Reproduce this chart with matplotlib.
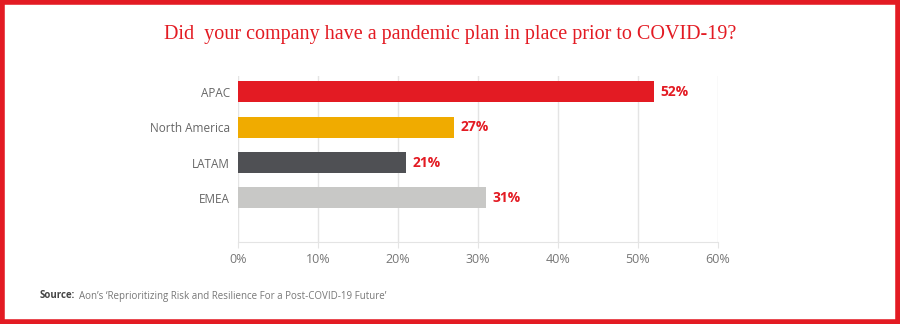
import matplotlib.pyplot as plt
from matplotlib.patches import Rectangle

regions = ["APAC", "North America", "LATAM", "EMEA"]
values = [52, 27, 21, 31]
colors = ["#E31B23", "#F0AB00", "#4F5054", "#C8C8C6"]
ticks = [0, 10, 20, 30, 40, 50, 60]

fig = plt.figure(figsize=(9, 3.24), dpi=100)
ax = fig.add_axes([238/900, 1-242/324, 480/900, 166/324])

pos = list(range(len(regions)))
ax.barh(pos, values, height=0.6, color=colors, zorder=2)
for p, v in zip(pos, values):
    ax.text(v + 0.8, p, f"{v}%", va="center", ha="left", color="#E31B23",
            fontsize=10, fontweight="bold", family="Open Sans")

ax.set_xlim(0, 60)
ax.set_ylim(4.25, -0.45)
ax.set_xticks(ticks)
ax.set_xticklabels([f"{t}%" for t in ticks], family="Open Sans", fontsize=9, color="#777777")
ax.set_yticks(pos)
ax.set_yticklabels(regions, family="Open Sans", fontsize=8.5, color="#666666")
ax.tick_params(axis="y", length=0, pad=6)
ax.tick_params(axis="x", length=4, color="#e4e4e4", pad=4)
ax.grid(axis="x", color="#e4e4e4", linewidth=1, zorder=0)
for s in ["top", "right", "left"]:
    ax.spines[s].set_visible(False)
ax.spines["bottom"].set_color("#e4e4e4")

fig.text(0.5, 1-35/324, "Did  your company have a pandemic plan in place prior to COVID-19?",
         ha="center", va="center", color="#E31B23", fontsize=14.5, family="Liberation Serif")
src = fig.text(40/900, 1-296/324, "Source:", ha="left", va="center", fontsize=7,
               fontweight="bold", color="#444444", family="Open Sans")
fig.canvas.draw()
ax.annotate("Aon\u2019s \u2018Reprioritizing Risk and Resilience For a Post-COVID-19 Future\u2019",
            xy=(1, 0.5), xycoords=src, xytext=(3, 0), textcoords="offset points",
            ha="left", va="center", fontsize=7, color="#777777", family="Open Sans",
            annotation_clip=False)

fig.patches.append(Rectangle((0.002, 0.005), 0.996, 0.99, transform=fig.transFigure,
                             fill=False, edgecolor="#E31B23", linewidth=4))

fig.savefig("out.png", dpi=100)
